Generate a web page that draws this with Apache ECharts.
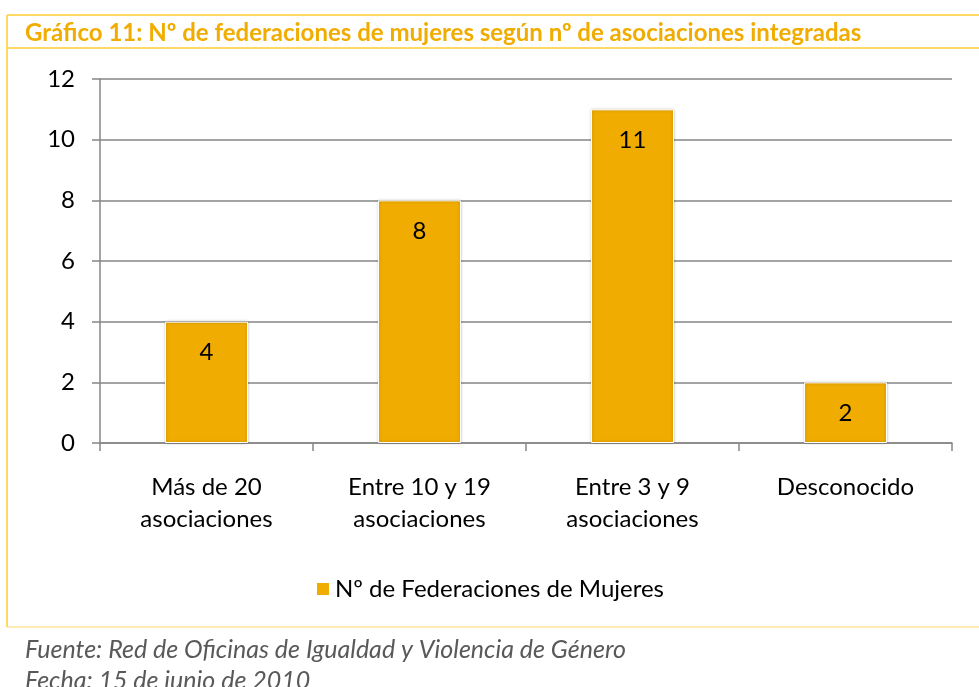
<!DOCTYPE html>
<html lang="es">
	<head>
		<meta charset="UTF-8">
		<title>Gráfico 11</title>
		<script src="https://cdn.jsdelivr.net/npm/echarts@6/dist/echarts.min.js"></script>
		<style type="text/css">
			html, body {
				margin: 0;
				padding: 0;
				background-color: #FFFFFF;
			}
			#chart {
				width: 979px;
				height: 687px;
			}
		</style>
	</head>
	<body>
		<div id="chart"></div>
	</body>
	<script type="text/javascript">
		// datos
		var categorias = ['Más de 20\nasociaciones', 'Entre 10 y 19\nasociaciones', 'Entre 3 y 9\nasociaciones', 'Desconocido'];
		var federaciones = [4, 8, 11, 2];
		var serieNombre = 'Nº de Federaciones de Mujeres';
		var titulo = 'Gráfico 11: Nº de federaciones de mujeres según nº de asociaciones integradas';
		var fuente = 'Fuente: Red de Oficinas de Igualdad y Violencia de Género';
		var fecha = 'Fecha: 15 de junio de 2010';

		var fuenteTexto = 'Lato, "Open Sans", sans-serif';
		var naranja = '#F0AC00';
		var borde = '#FFD966';

		var chart = echarts.init(document.getElementById('chart'));
		var option = {
			animation: false,
			textStyle: { fontFamily: fuenteTexto },
			title: [
				{
					text: titulo,
					left: 20,
					top: 16,
					textStyle: { color: naranja, fontSize: 24, fontWeight: 'bold', fontFamily: fuenteTexto }
				},
				{
					text: fuente,
					left: 20,
					top: 632,
					textStyle: { color: '#595959', fontSize: 25, fontStyle: 'italic', fontWeight: 'normal', fontFamily: fuenteTexto }
				},
				{
					text: fecha,
					left: 20,
					top: 663,
					textStyle: { color: '#595959', fontSize: 25, fontStyle: 'italic', fontWeight: 'normal', fontFamily: fuenteTexto }
				}
			],
			graphic: [
				{ type: 'line', shape: { x1: 7, y1: 15, x2: 979, y2: 15 }, style: { stroke: borde, lineWidth: 2 } },
				{ type: 'line', shape: { x1: 7, y1: 48, x2: 979, y2: 48 }, style: { stroke: borde, lineWidth: 2 } },
				{ type: 'line', shape: { x1: 7, y1: 15, x2: 7, y2: 627 }, style: { stroke: borde, lineWidth: 2 } },
				{ type: 'line', shape: { x1: 7, y1: 627, x2: 979, y2: 627 }, style: { stroke: borde, lineWidth: 1 } }
			],
			legend: {
				data: [serieNombre],
				left: 'center',
				top: 572,
				icon: 'rect',
				itemWidth: 14,
				itemHeight: 14,
				itemGap: 6,
				textStyle: { color: '#000000', fontSize: 24, fontFamily: fuenteTexto }
			},
			grid: {
				left: 100,
				right: 27,
				top: 79,
				bottom: 244
			},
			xAxis: {
				type: 'category',
				data: categorias,
				axisLine: { lineStyle: { color: '#868686', width: 1.5 } },
				axisTick: { show: true, length: 8, lineStyle: { color: '#868686', width: 1.5 } },
				axisLabel: { color: '#000000', fontSize: 24, lineHeight: 32, margin: 28, fontFamily: fuenteTexto }
			},
			yAxis: {
				type: 'value',
				min: 0,
				max: 12,
				interval: 2,
				axisLine: { show: true, lineStyle: { color: '#868686', width: 1.5 } },
				axisTick: { show: true, length: 8, lineStyle: { color: '#868686', width: 1.5 } },
				axisLabel: { color: '#000000', fontSize: 24, margin: 25, fontFamily: fuenteTexto },
				splitLine: { lineStyle: { color: '#868686', width: 1.5 } }
			},
			series: [
				{
					name: serieNombre,
					type: 'bar',
					data: federaciones,
					barWidth: 83,
					itemStyle: {
						color: naranja,
						borderColor: '#FFFFFF',
						borderWidth: 1,
						shadowColor: 'rgba(0,0,0,0.25)',
						shadowBlur: 3
					},
					label: {
						show: true,
						position: 'insideTop',
						distance: 19,
						color: '#000000',
						fontSize: 24,
						fontFamily: fuenteTexto
					}
				}
			]
		};
		chart.setOption(option);
	</script>
</html>
